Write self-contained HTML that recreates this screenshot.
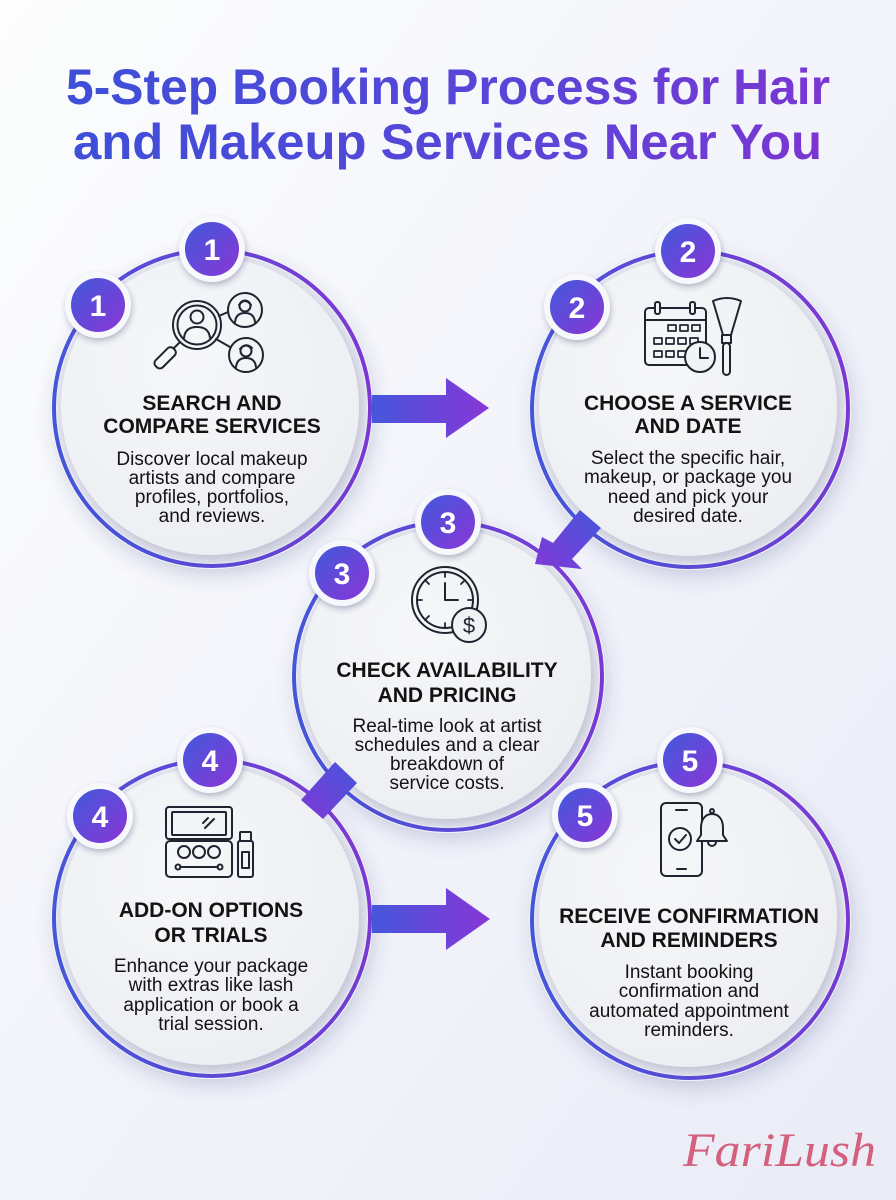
<!DOCTYPE html>
<html><head><meta charset="utf-8"><style>
html,body{margin:0;padding:0;background:#f3f4fa;}
svg{display:block;}
</style></head><body>
<svg width="896" height="1200" viewBox="0 0 896 1200" xmlns="http://www.w3.org/2000/svg">
<defs>
<linearGradient id="bg" x1="0" y1="0" x2="1" y2="1">
<stop offset="0" stop-color="#fcfdfc"/><stop offset="0.45" stop-color="#f4f5fb"/><stop offset="1" stop-color="#e9ebf6"/>
</linearGradient>
<linearGradient id="tg" x1="0" y1="0" x2="1" y2="0">
<stop offset="0" stop-color="#3e4fd8"/><stop offset="0.6" stop-color="#5a45d8"/><stop offset="1" stop-color="#7b36d2"/>
</linearGradient>
<linearGradient id="ring" x1="0" y1="0.6" x2="1" y2="0.4">
<stop offset="0" stop-color="#4457da"/><stop offset="1" stop-color="#7c39d4"/>
</linearGradient>
<linearGradient id="bad" x1="0" y1="0" x2="1" y2="1">
<stop offset="0" stop-color="#4159dc"/><stop offset="1" stop-color="#8a36d6"/>
</linearGradient>
<linearGradient id="arr" x1="0" y1="0" x2="1" y2="0">
<stop offset="0" stop-color="#4656dc"/><stop offset="1" stop-color="#8737d6"/>
</linearGradient>
<linearGradient id="arr2" x1="1" y1="0" x2="0" y2="1">
<stop offset="0" stop-color="#4656dc"/><stop offset="1" stop-color="#8039d6"/>
</linearGradient>
<radialGradient id="disk" cx="0.4" cy="0.35" r="0.7">
<stop offset="0" stop-color="#f6f7f9"/><stop offset="1" stop-color="#eceef2"/>
</radialGradient>
<filter id="sh" x="-25%" y="-25%" width="150%" height="150%">
<feDropShadow dx="3" dy="8" stdDeviation="9" flood-color="#3c4080" flood-opacity="0.2"/>
</filter>
<filter id="sh2" x="-25%" y="-25%" width="150%" height="150%">
<feDropShadow dx="3" dy="5" stdDeviation="5" flood-color="#4a4e78" flood-opacity="0.22"/>
</filter>
<filter id="bsh" x="-40%" y="-40%" width="180%" height="180%">
<feDropShadow dx="1" dy="3" stdDeviation="3" flood-color="#2c2d60" flood-opacity="0.3"/>
</filter>
</defs>

<rect width="896" height="1200" fill="url(#bg)"/>

<!-- Title -->
<g font-family="Liberation Sans, sans-serif" font-weight="bold" font-size="50" fill="url(#tg)">
<text x="66" y="104" textLength="764" lengthAdjust="spacingAndGlyphs">5-Step Booking Process for Hair</text>
<text x="73" y="159" textLength="749" lengthAdjust="spacingAndGlyphs">and Makeup Services Near You</text>
</g>

<!-- Circles -->
<g>
<circle cx="212" cy="408" r="161" fill="#f3f4f9" filter="url(#sh)"/>
<circle cx="212" cy="408" r="158" fill="none" stroke="url(#ring)" stroke-width="4"/>
<circle cx="212" cy="408" r="155" fill="#e3e5ee"/>
<circle cx="210" cy="406" r="149" fill="url(#disk)" filter="url(#sh2)"/>
</g>
<g>
<circle cx="690" cy="409" r="161" fill="#f3f4f9" filter="url(#sh)"/>
<circle cx="690" cy="409" r="158" fill="none" stroke="url(#ring)" stroke-width="4"/>
<circle cx="690" cy="409" r="155" fill="#e3e5ee"/>
<circle cx="688" cy="407" r="149" fill="url(#disk)" filter="url(#sh2)"/>
</g>
<g>
<circle cx="448" cy="676" r="157" fill="#f3f4f9" filter="url(#sh)"/>
<circle cx="448" cy="676" r="154" fill="none" stroke="url(#ring)" stroke-width="4"/>
<circle cx="448" cy="676" r="151" fill="#e3e5ee"/>
<circle cx="446" cy="674" r="145" fill="url(#disk)" filter="url(#sh2)"/>
</g>
<g>
<circle cx="212" cy="918" r="161" fill="#f3f4f9" filter="url(#sh)"/>
<circle cx="212" cy="918" r="158" fill="none" stroke="url(#ring)" stroke-width="4"/>
<circle cx="212" cy="918" r="155" fill="#e3e5ee"/>
<circle cx="210" cy="916" r="149" fill="url(#disk)" filter="url(#sh2)"/>
</g>
<g>
<circle cx="690" cy="920" r="161" fill="#f3f4f9" filter="url(#sh)"/>
<circle cx="690" cy="920" r="158" fill="none" stroke="url(#ring)" stroke-width="4"/>
<circle cx="690" cy="920" r="155" fill="#e3e5ee"/>
<circle cx="688" cy="918" r="149" fill="url(#disk)" filter="url(#sh2)"/>
</g>

<!-- Arrows -->
<polygon points="372,395 446,395 446,378 489,408 446,438 446,423 372,423" fill="url(#arr)"/>
<polygon points="372,905 446,905 446,888 490,919 446,950 446,933 372,933" fill="url(#arr)"/>
<polygon points="580,510 601,528 572,559 582,569 535,564 542,537 553,543" fill="url(#arr2)"/>
<polygon points="335,762 357,783 323,819 301,800" fill="url(#arr2)"/>

<!-- Icons -->
<g stroke="#1f2430" stroke-width="2" fill="none" stroke-linecap="round" stroke-linejoin="round">
<!-- icon 1 -->
<circle cx="197" cy="325" r="24"/>
<circle cx="197" cy="325" r="19.5"/>
<circle cx="197" cy="317" r="6.5"/>
<path d="M184 338 q1 -11 13 -11 q12 0 13 11"/>
<line x1="180" y1="342" x2="174" y2="348"/>
<rect x="-5" y="0" width="10" height="25" rx="4" transform="translate(174,349) rotate(45)"/>
<circle cx="245" cy="310" r="17"/>
<circle cx="245" cy="306" r="5.5"/>
<path d="M239 305 q6 -8 12 0"/>
<path d="M235 322 q1 -9 10 -9 q9 0 10 9"/>
<circle cx="246" cy="355" r="17"/>
<circle cx="246" cy="351" r="5.5"/>
<path d="M240 349 q6 -7 12 -1"/>
<path d="M236 367 q1 -9 10 -9 q9 0 10 9"/>
<line x1="219" y1="316" x2="228" y2="312"/>
<line x1="216" y1="339" x2="230" y2="347"/>

<!-- icon 2 -->
<rect x="645" y="308" width="61" height="57" rx="4"/>
<line x1="645" y1="320" x2="706" y2="320"/>
<rect x="655" y="302" width="5" height="12" rx="2" fill="#f2f3f6"/>
<rect x="690" y="302" width="5" height="12" rx="2" fill="#f2f3f6"/>
<g stroke-width="1.7">
<rect x="668" y="325" width="8" height="6"/><rect x="680" y="325" width="8" height="6"/><rect x="692" y="325" width="8" height="6"/>
<rect x="654" y="338" width="8" height="6"/><rect x="666" y="338" width="8" height="6"/><rect x="678" y="338" width="8" height="6"/><rect x="690" y="338" width="8" height="6"/>
<rect x="654" y="351" width="8" height="6"/><rect x="666" y="351" width="8" height="6"/><rect x="678" y="351" width="8" height="6"/>
</g>
<circle cx="700" cy="357" r="15" fill="#f2f3f6"/>
<path d="M700 348 L700 358 L708 358"/>
<path d="M713 301 Q727 295 741 301 L731 335 L723 335 Z" fill="#f2f3f6"/>
<rect x="722" y="335" width="9" height="8"/>
<rect x="723" y="343" width="7" height="32" rx="3.5"/>

<!-- icon 3 -->
<circle cx="445" cy="600" r="33"/>
<circle cx="445" cy="600" r="28"/>
<g stroke-width="1.8">
<line x1="445" y1="572" x2="445" y2="577"/>
<line x1="417" y1="600" x2="422" y2="600"/>
<line x1="445" y1="623" x2="445" y2="628"/>
<line x1="473" y1="600" x2="468" y2="600"/>
<line x1="425" y1="580" x2="429" y2="584"/>
<line x1="465" y1="580" x2="461" y2="584"/>
<line x1="425" y1="620" x2="429" y2="616"/>
</g>
<path d="M445 583 L445 600 L458 600"/>
<circle cx="469" cy="625" r="17" fill="#f1f2f5"/>

<!-- icon 4 -->
<rect x="166" y="807" width="66" height="32" rx="3"/>
<rect x="172" y="812" width="54" height="23" rx="1"/>
<line x1="203" y1="823" x2="208" y2="818"/>
<line x1="205" y1="828" x2="214" y2="819"/>
<rect x="166" y="841" width="66" height="36" rx="4"/>
<circle cx="184" cy="852" r="6"/>
<circle cx="199" cy="852" r="6"/>
<circle cx="214" cy="852" r="6"/>
<line x1="180" y1="867" x2="218" y2="867"/>
<circle cx="178" cy="867" r="2.5"/>
<circle cx="220" cy="867" r="2.5"/>
<rect x="240" y="832" width="11" height="9" rx="1"/>
<rect x="238" y="841" width="15" height="36" rx="2"/>
<rect x="242" y="852" width="7" height="16"/>

<!-- icon 5 -->
<rect x="661" y="803" width="41" height="73" rx="5"/>
<line x1="676" y1="810" x2="687" y2="810"/>
<line x1="677" y1="869" x2="686" y2="869"/>
<circle cx="680" cy="839" r="11"/>
<path d="M675 839 L679 843 L686 835"/>
<path d="M712 814 c-8 0 -11 7 -11 14 l0 7 l-4 6 h30 l-4 -6 v-7 c0 -7 -3 -14 -11 -14 z" fill="#f1f2f5"/>
<circle cx="712" cy="811" r="2"/>
<path d="M708 842 a4 4 0 0 0 8 0"/>
</g>
<text x="469" y="633" text-anchor="middle" font-family="Liberation Sans, sans-serif" font-size="22" fill="#1f2430">$</text>

<!-- Text -->
<g font-family="Liberation Sans, sans-serif" fill="#131313" text-anchor="middle">
<g font-weight="bold" font-size="21">
<text x="212" y="410">SEARCH AND</text>
<text x="212" y="433">COMPARE SERVICES</text>
<text x="688" y="410">CHOOSE A SERVICE</text>
<text x="688" y="433">AND DATE</text>
<text x="447" y="677">CHECK AVAILABILITY</text>
<text x="447" y="702">AND PRICING</text>
<text x="211" y="917">ADD-ON OPTIONS</text>
<text x="211" y="942">OR TRIALS</text>
<text x="689" y="923">RECEIVE CONFIRMATION</text>
<text x="689" y="947">AND REMINDERS</text>
</g>
<g font-size="19">
<text x="212" y="465">Discover local makeup</text>
<text x="212" y="484">artists and compare</text>
<text x="212" y="503">profiles, portfolios,</text>
<text x="212" y="522">and reviews.</text>
<text x="688" y="464">Select the specific hair,</text>
<text x="688" y="483">makeup, or package you</text>
<text x="688" y="503">need and pick your</text>
<text x="688" y="522">desired date.</text>
<text x="447" y="732">Real-time look at artist</text>
<text x="447" y="751">schedules and a clear</text>
<text x="447" y="770">breakdown of</text>
<text x="447" y="789">service costs.</text>
<text x="211" y="972">Enhance your package</text>
<text x="211" y="991">with extras like lash</text>
<text x="211" y="1011">application or book a</text>
<text x="211" y="1030">trial session.</text>
<text x="689" y="978">Instant booking</text>
<text x="689" y="997">confirmation and</text>
<text x="689" y="1017">automated appointment</text>
<text x="689" y="1036">reminders.</text>
</g>
</g>

<!-- Badges -->
<g font-family="Liberation Sans, sans-serif" font-weight="bold" font-size="30" fill="#fff" text-anchor="middle">
<g><circle cx="212" cy="249" r="33" fill="#f7f8fb" filter="url(#bsh)"/><circle cx="212" cy="249" r="27" fill="url(#bad)"/><text x="212" y="260">1</text></g>
<g><circle cx="98" cy="305" r="33" fill="#f7f8fb" filter="url(#bsh)"/><circle cx="98" cy="305" r="27" fill="url(#bad)"/><text x="98" y="316">1</text></g>
<g><circle cx="688" cy="251" r="33" fill="#f7f8fb" filter="url(#bsh)"/><circle cx="688" cy="251" r="27" fill="url(#bad)"/><text x="688" y="262">2</text></g>
<g><circle cx="577" cy="307" r="33" fill="#f7f8fb" filter="url(#bsh)"/><circle cx="577" cy="307" r="27" fill="url(#bad)"/><text x="577" y="318">2</text></g>
<g><circle cx="448" cy="522" r="33" fill="#f7f8fb" filter="url(#bsh)"/><circle cx="448" cy="522" r="27" fill="url(#bad)"/><text x="448" y="533">3</text></g>
<g><circle cx="342" cy="573" r="33" fill="#f7f8fb" filter="url(#bsh)"/><circle cx="342" cy="573" r="27" fill="url(#bad)"/><text x="342" y="584">3</text></g>
<g><circle cx="210" cy="760" r="33" fill="#f7f8fb" filter="url(#bsh)"/><circle cx="210" cy="760" r="27" fill="url(#bad)"/><text x="210" y="771">4</text></g>
<g><circle cx="100" cy="816" r="33" fill="#f7f8fb" filter="url(#bsh)"/><circle cx="100" cy="816" r="27" fill="url(#bad)"/><text x="100" y="827">4</text></g>
<g><circle cx="690" cy="760" r="33" fill="#f7f8fb" filter="url(#bsh)"/><circle cx="690" cy="760" r="27" fill="url(#bad)"/><text x="690" y="771">5</text></g>
<g><circle cx="585" cy="815" r="33" fill="#f7f8fb" filter="url(#bsh)"/><circle cx="585" cy="815" r="27" fill="url(#bad)"/><text x="585" y="826">5</text></g>
</g>

<!-- Logo -->
<text x="683" y="1166" font-family="Liberation Serif, serif" font-style="italic" font-size="48" fill="#d4607e" textLength="193" lengthAdjust="spacingAndGlyphs">FariLush</text>
</svg>
</body></html>
